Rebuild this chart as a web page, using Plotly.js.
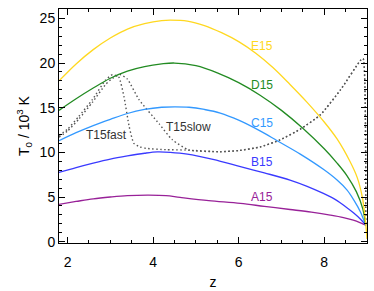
<!DOCTYPE html>
<html>
<head>
<meta charset="utf-8">
<script src="https://cdn.plot.ly/plotly-3.0.1.min.js"></script>
<style>html,body{margin:0;padding:0;background:#fff;}#chart{width:374px;height:291px;}</style>
</head>
<body>
<div id="chart"></div>
<script>
// ---- data ----
const zE15 = [1.8, 2.2, 2.6, 3.0, 3.4, 3.8, 4.2, 4.4, 4.8, 5.2, 5.6, 6.0, 6.4, 6.8, 7.2, 7.6, 8.0, 8.3, 8.6, 8.77, 8.89, 8.96, 9.0];
const tE15 = [18.0, 19.9, 21.5, 22.8, 23.8, 24.4, 24.75, 24.8, 24.7, 24.2, 23.4, 22.4, 21.1, 19.5, 17.6, 15.6, 13.4, 11.5, 9.0, 7.2, 5.0, 2.5, 0.3];

const zD15 = [1.8, 2.2, 2.6, 3.0, 3.4, 3.8, 4.2, 4.5, 5.0, 5.5, 6.0, 6.5, 7.0, 7.5, 8.0, 8.3, 8.53, 8.75, 8.9, 8.97];
const tD15 = [14.7, 16.0, 17.2, 18.3, 19.1, 19.6, 19.9, 20.0, 19.7, 18.9, 17.8, 16.4, 14.7, 12.7, 10.4, 8.8, 7.4, 5.6, 3.7, 1.8];

const zC15 = [1.8, 2.2, 2.6, 3.0, 3.4, 3.8, 4.2, 4.5, 4.84, 5.2, 5.57, 6.0, 6.5, 6.9, 7.44, 7.98, 8.3, 8.53, 8.7, 8.85, 8.97];
const tC15 = [11.3, 12.2, 13.0, 13.7, 14.35, 14.8, 15.05, 15.1, 15.05, 14.8, 14.4, 13.6, 12.4, 11.3, 9.8, 8.1, 6.9, 5.8, 4.6, 3.3, 1.8];

const zB15 = [1.8, 2.2, 2.6, 3.0, 3.4, 3.8, 4.1, 4.4, 4.8, 5.4, 6.04, 6.6, 7.2, 7.6, 7.98, 8.3, 8.5, 8.69, 8.85, 8.97];
const tB15 = [7.75, 8.3, 8.8, 9.25, 9.6, 9.9, 10.05, 10.0, 9.8, 9.2, 8.4, 7.7, 6.9, 6.2, 5.4, 4.6, 3.9, 3.2, 2.5, 1.85];

const zA15 = [1.8, 2.2, 2.6, 3.0, 3.4, 3.9, 4.3, 4.63, 5.3, 6.04, 6.6, 7.2, 7.7, 8.14, 8.45, 8.68, 8.85, 8.97];
const tA15 = [4.18, 4.5, 4.8, 5.0, 5.15, 5.2, 5.15, 4.96, 4.6, 4.29, 3.95, 3.6, 3.3, 2.98, 2.7, 2.4, 2.1, 1.86];

const zT15fast = [1.8, 2.0, 2.26, 2.58, 2.89, 3.05, 3.2, 3.32, 3.44, 3.55, 3.7, 3.83, 4.3, 4.76, 5.57, 6.0, 6.5, 6.97, 7.44, 7.91, 8.38, 8.85, 8.91, 8.97];
const tT15fast = [11.9, 12.6, 14.0, 15.9, 18.1, 18.7, 18.4, 16.2, 12.9, 11.0, 10.6, 10.45, 10.3, 10.26, 10.07, 10.2, 10.6, 11.4, 12.6, 14.2, 17.0, 20.3, 20.5, 1.8];

const zT15slow = [1.8, 2.0, 2.26, 2.58, 2.89, 3.05, 3.24, 3.4, 3.67, 4.14, 4.45, 4.84, 5.57, 6.0, 6.5, 6.97, 7.44, 7.91, 8.38, 8.85, 8.91, 8.97];
const tT15slow = [11.7, 12.4, 13.7, 15.6, 17.6, 18.3, 18.7, 18.2, 15.9, 13.2, 11.4, 10.26, 10.07, 10.2, 10.6, 11.4, 12.6, 14.2, 17.0, 20.3, 20.5, 1.8];

const xTickVals = [2, 4, 6, 8];
const yTickVals = [0, 5, 10, 15, 20, 25];

// ---- chart ----
const FONT = 'Liberation Sans, Arial, Helvetica, sans-serif';
const line = (c) => ({color: c, width: 1.3, shape: 'spline', smoothing: 1});
const dotLine = {color: '#555555', width: 1.4, dash: '1.5px,2.5px', shape: 'spline', smoothing: 0.5};

const traces = [
  {x: zT15fast, y: tT15fast, name: 'T15fast', mode: 'lines', line: dotLine},
  {x: zT15slow, y: tT15slow, name: 'T15slow', mode: 'lines', line: dotLine},
  {x: zA15, y: tA15, name: 'A15', mode: 'lines', line: line('#982198')},
  {x: zB15, y: tB15, name: 'B15', mode: 'lines', line: line('#3a3aff')},
  {x: zC15, y: tC15, name: 'C15', mode: 'lines', line: line('#3399ff')},
  {x: zD15, y: tD15, name: 'D15', mode: 'lines', line: line('#228b22')},
  {x: zE15, y: tE15, name: 'E15', mode: 'lines', line: line('#ffd820')}
];

const lab = (x, y, t, c) => ({x: x, y: y, text: t, showarrow: false, xref: 'x', yref: 'y',
  font: {family: FONT, size: 12, color: c}});

const axisCommon = {
  showline: true, linecolor: '#000', linewidth: 1, mirror: 'ticks',
  ticks: 'inside', ticklen: 6, tickwidth: 1, tickcolor: '#000',
  showgrid: false, zeroline: false,
  tickfont: {family: FONT, size: 14, color: '#000'}
};

const layout = {
  width: 374, height: 291,
  margin: {l: 59, r: 7, t: 9, b: 48},
  paper_bgcolor: '#fff', plot_bgcolor: '#fff',
  showlegend: false,
  font: {family: FONT, color: '#000'},
  xaxis: Object.assign({}, axisCommon, {
    range: [1.8, 9.0], tickmode: 'array', tickvals: xTickVals, ticktext: xTickVals.map(String),
    minor: {dtick: 0.5, tick0: 0, ticks: 'inside', ticklen: 3, tickcolor: '#000', showgrid: false},
    ticklabelstandoff: 6,
    title: {text: 'z', font: {family: FONT, size: 14, color: '#000'}, standoff: 8}
  }),
  yaxis: Object.assign({}, axisCommon, {
    range: [-0.15, 26.05], tickmode: 'array', tickvals: yTickVals, ticktext: yTickVals.map(String),
    minor: {dtick: 1, tick0: 0, ticks: 'inside', ticklen: 3, tickcolor: '#000', showgrid: false},
    title: {text: 'T<sub>0</sub> / 10<sup>3</sup> K', font: {family: FONT, size: 14, color: '#000'}, standoff: 6}
  }),
  annotations: [
    lab(6.55, 21.9, 'E15', '#ffd820'),
    lab(6.55, 17.5, 'D15', '#228b22'),
    lab(6.55, 13.3, 'C15', '#3399ff'),
    lab(6.55, 8.9, 'B15', '#3a3aff'),
    lab(6.55, 4.95, 'A15', '#982198'),
    lab(2.9, 11.9, 'T15fast', '#333333'),
    lab(4.82, 12.8, 'T15slow', '#333333')
  ]
};

Plotly.newPlot('chart', traces, layout, {displayModeBar: false, staticPlot: true});
</script>
</body>
</html>
